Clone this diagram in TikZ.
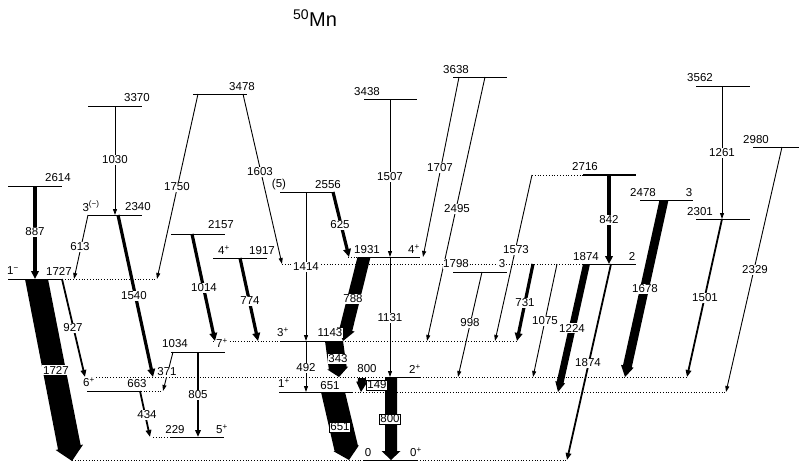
\documentclass[tikz,border=0pt]{standalone}
\usepackage{fontspec}
\setmainfont{Liberation Sans}
\usetikzlibrary{arrows.meta,calc}
\newcommand\fatarrow[5]{%
  \coordinate (fa1) at (#1);
  \coordinate (fa2) at (#2);
  \coordinate (fan) at ($(fa2)!#5pt!(fa1)$);
  \fill ($(fa1)+(-#3,0)$) -- ($(fa1)+(#3,0)$) -- ($(fan)!#3pt!90:(fa2)$) -- ($(fan)!#4pt!90:(fa2)$) -- (fa2) -- ($(fan)!#4pt!-90:(fa2)$) -- ($(fan)!#3pt!-90:(fa2)$) -- cycle;}
\tikzset{
  lvl/.style={line width=1pt},
  dots/.style={line width=0.8pt, dotted},
  gthin/.style={line width=0.9pt, -{Triangle[length=6pt,width=4pt]}},
  gmed/.style={line width=1.8pt, -{Triangle[length=7pt,width=5.5pt]}},
  gthick/.style={line width=3.2pt, -{Triangle[length=8pt,width=7.5pt]}},
  glab/.style={fill=white, inner sep=0.8pt, font=\fontsize{11.5}{12}\selectfont},
  llab/.style={fill=white, inner sep=0.5pt, font=\fontsize{11.5}{12}\selectfont},
  boxlab/.style={fill=white, draw, line width=0.6pt, inner sep=1pt, font=\fontsize{11.5}{12}\selectfont}
}
\begin{document}
\begin{tikzpicture}[x=1pt,y=-1pt]
\useasboundingbox (0,0) rectangle (799,461);
% title
\node (title) at (315,18) {\fontsize{20}{24}\selectfont\textsuperscript{50}Mn};
% levels
\draw[lvl] (8,186) -- (62,186);
\draw[lvl] (88,106) -- (142,106);
\draw[lvl] (193,94) -- (247,94);
\draw[lvl] (88,215) -- (142,215);
\draw[lvl] (8,279) -- (62,279); \draw[dots] (62,279) -- (157,279);
\draw[lvl] (171,234) -- (225,234);
\draw[lvl] (213,258) -- (267,258);
\draw[lvl] (280,192) -- (333,192);
\draw[lvl] (364,99) -- (417,99);
\draw[lvl] (453,77) -- (507,77);
\draw[dots] (348,257) -- (362,257); \draw[lvl] (362,257) -- (420,257);
\draw[lvl] (453,272) -- (507,272);
\draw[dots] (282,264) -- (583,264); \draw[lvl] (583,264) -- (636,264);
\draw[dots] (532,175) -- (583,175); \draw[lvl, line width=2pt] (583,175) -- (636,175);
\draw[lvl] (640,200) -- (693,200);
\draw[lvl] (696,86) -- (750,86);
\draw[lvl] (696,219) -- (750,219);
\draw[lvl] (753,147) -- (799,147);
\draw[lvl] (171,352) -- (225,352);
\draw[dots] (213,341) -- (280,341); \draw[lvl] (280,341) -- (342,341); \draw[dots] (342,341) -- (517,341);
\draw[lvl] (87,391) -- (138,391); \draw[dots] (138,391) -- (163,391);
\draw[dots] (85,377) -- (387,377); \draw[lvl] (387,377) -- (420,377); \draw[dots] (420,377) -- (687,377);
\draw[lvl] (279,392) -- (352,392); \draw[dots] (352,392) -- (727,392);
\draw[dots] (153,437) -- (170,437); \draw[lvl] (170,437) -- (224,437);
\draw[dots] (72,460) -- (363,460); \draw[lvl] (363,460) -- (417,460); \draw[dots] (417,460) -- (567,460);
% fat transitions
\fatarrow{36.5,279}{72,461}{11.5}{14}{14}
\fatarrow{333,392}{349,460}{12}{13}{12}
\fatarrow{391,377}{391,460}{6}{9.5}{9}
\fatarrow{364,257}{343,341}{6.5}{9}{12}
\fatarrow{334,341}{339,377}{9}{10.5}{9}
\fatarrow{362,378}{361,392}{4}{5.5}{10}
\fatarrow{586.5,264}{558,392}{3.5}{5}{10}
\fatarrow{664,200}{625,377}{4.5}{6.5}{11}
% thick transitions
\draw[gthick] (35,186) -- (35,279);
\draw[gthick] (118,215) -- (153,377);
\draw[gthick] (192,234) -- (215,341);
\draw[gthick] (240,258) -- (258,341);
\draw[gthick] (333,192) -- (349,257);
\draw[gthick] (609,175) -- (609,264);
\draw[gthick] (533,264) -- (517,341);
% medium transitions
\draw[gmed] (62,279) -- (85,377);
\draw[gmed] (198,352) -- (198,437);
\draw[gmed] (140,391) -- (150,437);
\draw[gmed] (722,219) -- (687,377);
\draw[gmed] (611,264) -- (567,460);
% thin transitions
\draw[gthin] (115,106) -- (115,215);
\draw[gthin] (88,215) -- (74,279);
\draw[gthin] (198,94) -- (157,279);
\draw[gthin] (243,94) -- (282,264);
\draw[gthin] (173,352) -- (163,391);
\draw[gthin] (306,192) -- (306,341);
\draw[gthin] (306,341) -- (306,392);
\draw[gthin] (390,99) -- (390,257);
\draw[gthin] (390,257) -- (390,377);
\draw[gthin] (459,77) -- (423,257);
\draw[gthin] (485,77) -- (427,341);
\draw[gthin] (482,272) -- (458,377);
\draw[gthin] (532,175) -- (495,341);
\draw[gthin] (557,264) -- (533,377);
\draw[gthin] (722,86) -- (722,219);
\draw[gthin] (782,147) -- (726,392);
% level labels
\node[llab] (e2614) at (58,178) {2614};
\node[llab] (e3370) at (137,98) {3370};
\node[llab] (e3478) at (242,87) {3478};
\node[llab] (j2340) at (91,206) {3\textsuperscript{(−)}};
\node[llab] (e2340) at (138,207) {2340};
\node[llab] (j1727) at (13,271) {1\textsuperscript{−}};
\node[llab] (e1727) at (59,271) {1727};
\node[llab] (e2157) at (221,225) {2157};
\node[llab] (j1917) at (224,250) {4\textsuperscript{+}};
\node[llab] (e1917) at (262,251) {1917};
\node[llab] (j2556) at (279,185) {(5)};
\node[llab] (e2556) at (328,185) {2556};
\node[llab] (e3438) at (367,92) {3438};
\node[llab] (e3638) at (456,70) {3638};
\node[llab] (e1931) at (367,250) {1931};
\node[llab] (j1931) at (414,249) {4\textsuperscript{+}};
\node[llab] (e1798) at (456,264) {1798};
\node[llab] (j1798) at (502,264) {3};
\node[llab] (e2716) at (585,167) {2716};
\node[llab] (e2478) at (643,193) {2478};
\node[llab] (j2478) at (689,193) {3};
\node[llab] (e3562) at (700,78) {3562};
\node[llab] (e2301) at (700,212) {2301};
\node[llab] (e2980) at (756,140) {2980};
\node[llab] (e1874) at (586,257) {1874};
\node[llab] (j1874) at (632,256) {2};
\node[llab] (e1034) at (175,344) {1034};
\node[llab] (j1034) at (222,343) {7\textsuperscript{+}};
\node[llab] (j1143) at (283,332) {3\textsuperscript{+}};
\node[llab] (e1143) at (330,333) {1143};
\node[llab] (j663) at (89,382) {6\textsuperscript{+}};
\node[llab] (e663) at (137,384) {663};
\node[llab] (e800) at (367,369) {800};
\node[llab] (j800) at (415,369) {2\textsuperscript{+}};
\node[llab] (j651) at (284,383) {1\textsuperscript{+}};
\node[llab] (e651) at (330,386) {651};
\node[llab] (e229) at (175,430) {229};
\node[llab] (j229) at (222,429) {5\textsuperscript{+}};
\node[llab] (e0) at (368,453) {0};
\node[llab] (j0) at (416,452) {0\textsuperscript{+}};
% gamma labels
\node[glab] (g887) at (35,232) {887};
\node[glab] (g613) at (80,247) {613};
\node[glab] (g1030) at (115,160) {1030};
\node[glab] (g1750) at (177,187) {1750};
\node[glab] (g1603) at (260,172) {1603};
\node[glab] (g1540) at (134,296) {1540};
\node[glab] (g927) at (73,328) {927};
\node[glab] (g1727) at (56,370) {1727};
\node[glab] (g1014) at (204,288) {1014};
\node[glab] (g774) at (250,301) {774};
\node[glab] (g805) at (198,395) {805};
\node[glab] (g434) at (147,415) {434};
\node[glab] (g371) at (167,372) {371};
\node[glab] (g1414) at (306,267) {1414};
\node[glab] (g492) at (306,368) {492};
\node[glab] (g625) at (340,225) {625};
\node[glab] (g788) at (353,299) {788};
\node[glab] (g343) at (338,359) {343};
\node[glab] (g1507) at (390,177) {1507};
\node[glab] (g1131) at (390,318) {1131};
\node[glab] (g1707) at (440,168) {1707};
\node[glab] (g2495) at (457,209) {2495};
\node[glab] (g998) at (470,323) {998};
\node[glab] (g1573) at (516,250) {1573};
\node[glab] (g731) at (525,303) {731};
\node[glab] (g1075) at (545,321) {1075};
\node[glab] (g1224) at (572,328) {1224};
\node[glab] (g1874) at (588,363) {1874};
\node[glab] (g842) at (609,220) {842};
\node[glab] (g1678) at (645,289) {1678};
\node[glab] (g1261) at (722,153) {1261};
\node[glab] (g1501) at (705,298) {1501};
\node[glab] (g2329) at (755,270) {2329};
\node[boxlab] (g651) at (340,427) {651};
\node[boxlab] (g800) at (390,419) {800};
\node[boxlab] (g149) at (377,385) {149};
\end{tikzpicture}
\end{document}
